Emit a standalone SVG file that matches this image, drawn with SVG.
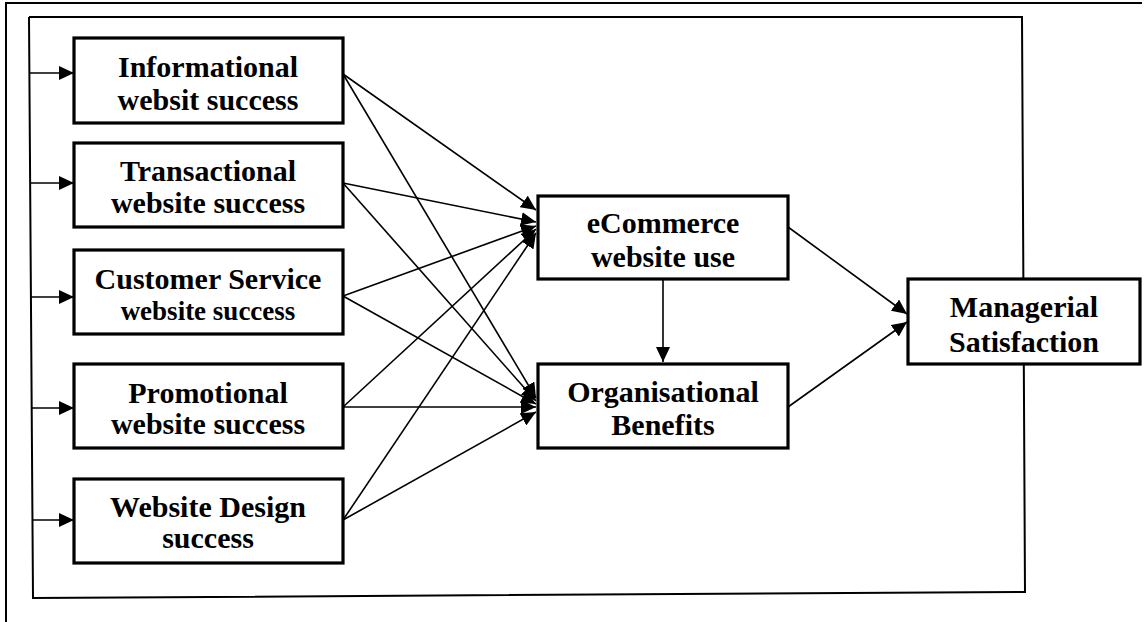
<svg xmlns="http://www.w3.org/2000/svg" width="1146" height="622" viewBox="0 0 1146 622">
<defs>
<marker id="ah" markerUnits="userSpaceOnUse" markerWidth="16" markerHeight="14" refX="15" refY="7" orient="auto">
<path d="M0,0 L15,7 L0,14 z" fill="#000"/>
</marker>
<style>
.box{fill:#fff;stroke:#000;stroke-width:3.2}
.t{font-family:"Liberation Serif","Times New Roman",serif;font-weight:bold;font-size:30px;text-anchor:middle;fill:#000}
.c{stroke:#000;stroke-width:1.6;fill:none}
.a{stroke:#000;stroke-width:1.6;fill:none;marker-end:url(#ah)}
.f{stroke:#000;stroke-width:2;fill:none}
</style>
</defs>
<rect width="1146" height="622" fill="#fff"/>
<g id="frame">
<line class="f" x1="5" y1="3" x2="1142" y2="3" stroke-width="2.5"/>
<line class="f" x1="6" y1="2" x2="6" y2="622" stroke-width="2.5"/>
<polyline class="f" points="29,17 1022,17 1025,593"/>
<polyline class="f" points="1024,592 33,598 29,17"/>
</g>
<g id="connectors">
<line class="a" x1="29" y1="73" x2="74" y2="73"/>
<line class="a" x1="30" y1="183" x2="74" y2="183"/>
<line class="a" x1="30" y1="297" x2="74" y2="297"/>
<line class="a" x1="31" y1="408" x2="74" y2="408"/>
<line class="a" x1="32" y1="520" x2="74" y2="520"/>
<line class="a" x1="343" y1="74" x2="536" y2="210"/>
<line class="a" x1="343" y1="183" x2="536" y2="222"/>
<line class="a" x1="343" y1="296" x2="536" y2="226"/>
<line class="a" x1="343" y1="407" x2="536" y2="229"/>
<line class="a" x1="343" y1="520" x2="536" y2="233"/>
<line class="a" x1="343" y1="74" x2="536" y2="398"/>
<line class="a" x1="343" y1="183" x2="536" y2="401"/>
<line class="a" x1="343" y1="296" x2="536" y2="404"/>
<line class="a" x1="343" y1="407" x2="536" y2="407"/>
<line class="a" x1="343" y1="520" x2="536" y2="412"/>
<line class="a" x1="663" y1="279" x2="663" y2="362"/>
<line class="a" x1="788" y1="227" x2="907" y2="314"/>
<line class="a" x1="788" y1="407" x2="907" y2="322"/>
</g>
<g id="n-informational">
<rect class="box" x="74" y="38" width="269" height="85"/>
<text class="t" x="208" y="77">Informational</text>
<text class="t" x="208" y="110">websit success</text>
</g>
<g id="n-transactional">
<rect class="box" x="74" y="143" width="269" height="84"/>
<text class="t" x="208" y="181">Transactional</text>
<text class="t" x="208" y="213">website success</text>
</g>
<g id="n-customer">
<rect class="box" x="74" y="250" width="269" height="84"/>
<text class="t" x="208" y="289">Customer Service</text>
<text class="t" x="208" y="320" style="font-size:27px">website success</text>
</g>
<g id="n-promotional">
<rect class="box" x="74" y="364" width="269" height="84"/>
<text class="t" x="208" y="403">Promotional</text>
<text class="t" x="208" y="434">website success</text>
</g>
<g id="n-design">
<rect class="box" x="74" y="479" width="269" height="84"/>
<text class="t" x="208" y="517">Website Design</text>
<text class="t" x="208" y="548">success</text>
</g>
<g id="n-ecommerce">
<rect class="box" x="538" y="196" width="250" height="83"/>
<text class="t" x="663" y="233">eCommerce</text>
<text class="t" x="663" y="267">website use</text>
</g>
<g id="n-organisational">
<rect class="box" x="538" y="364" width="250" height="84"/>
<text class="t" x="663" y="402">Organisational</text>
<text class="t" x="663" y="435">Benefits</text>
</g>
<g id="n-managerial">
<rect class="box" x="908" y="279" width="232" height="85"/>
<text class="t" x="1024" y="317">Managerial</text>
<text class="t" x="1024" y="352">Satisfaction</text>
</g>
</svg>
